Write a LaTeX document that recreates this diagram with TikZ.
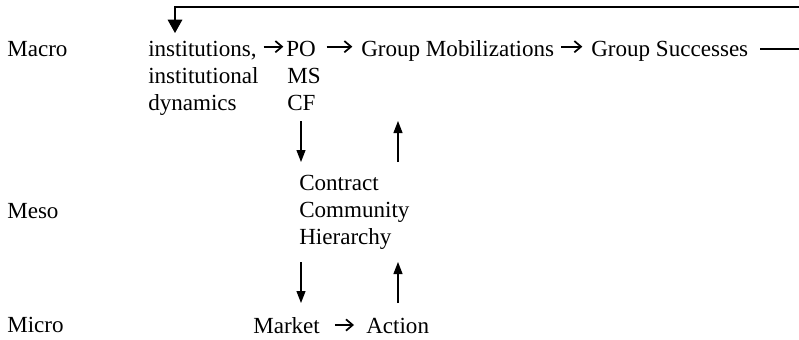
\documentclass[tikz,border=0pt]{standalone}
\usepackage{fontspec}
\setmainfont{Liberation Serif}
\usetikzlibrary{arrows.meta}
\begin{document}
\begin{tikzpicture}[x=0.75pt,y=-0.75pt,
  txt/.style={inner sep=0pt,anchor=base west,font=\fontsize{17.3}{20}\selectfont},
  inl/.style={line width=1.3pt,-{Straight Barb[length=5pt,width=8.5pt]}},
  varrow/.style={line width=0.9pt,-{Triangle[width=6.75pt,length=9pt]}},
  loop/.style={line width=0.8pt}]
\useasboundingbox (0,0) rectangle (799,339);
% level labels
\node[txt] (macro) at (7,56) {Macro};
\node[txt] (meso) at (7,218) {Meso};
\node[txt] (micro) at (7,332) {Micro};
% macro row
\node[txt] (inst1) at (148,56) {institutions,};
\node[txt] (inst2) at (148,83) {institutional};
\node[txt] (inst3) at (148,110) {dynamics};
\node[txt] (po) at (286,56) {PO};
\node[txt] (ms) at (287,83) {MS};
\node[txt] (cf) at (287,110) {CF};
\node[txt] (gm) at (361,56) {Group Mobilizations};
\node[txt] (gs) at (591,56) {Group Successes};
% meso
\node[txt] (contract) at (299,190) {Contract};
\node[txt] (community) at (299,217) {Community};
\node[txt] (hierarchy) at (299,244) {Hierarchy};
% micro
\node[txt] (market) at (253,333) {Market};
\node[txt] (action) at (366,333) {Action};
% inline arrows
\draw[inl] ([shift={(5pt,7pt)}]inst1.base east) -- ([shift={(-2pt,7pt)}]po.base west);
\draw[inl] ([shift={(8pt,7pt)}]po.base east) -- ([shift={(-6.5pt,7pt)}]gm.base west);
\draw[inl] ([shift={(5pt,7pt)}]gm.base east) -- ([shift={(-6.5pt,7pt)}]gs.base west);
\draw[inl] ([shift={(11pt,6pt)}]market.base east) -- ([shift={(-9pt,6pt)}]action.base west);
% vertical arrows
\draw[varrow] ([shift={(10.5pt,-8.25pt)}]cf.base west) -- ([shift={(1.5pt,21pt)}]contract.base west);
\draw[varrow] ([shift={(74.25pt,21pt)}]contract.base west) -- ([shift={(27.75pt,-48.75pt)}]gm.base west);
\draw[varrow] ([shift={(1.5pt,-13.5pt)}]hierarchy.base west) -- ([shift={(36pt,22.5pt)}]market.base west);
\draw[varrow] ([shift={(24pt,22.5pt)}]action.base west) -- ([shift={(74.25pt,-13.5pt)}]hierarchy.base west);
% feedback loop
\coordinate (fbend) at (799,49);
\coordinate (fbtop) at (799,7);
\coordinate (insttop) at (175,33);
\draw[loop] ([shift={(9pt,5.25pt)}]gs.base east) -- (fbend);
\draw[loop,-{Triangle[width=11pt,length=10pt]}] (fbtop) -| (insttop);
\end{tikzpicture}
\end{document}
